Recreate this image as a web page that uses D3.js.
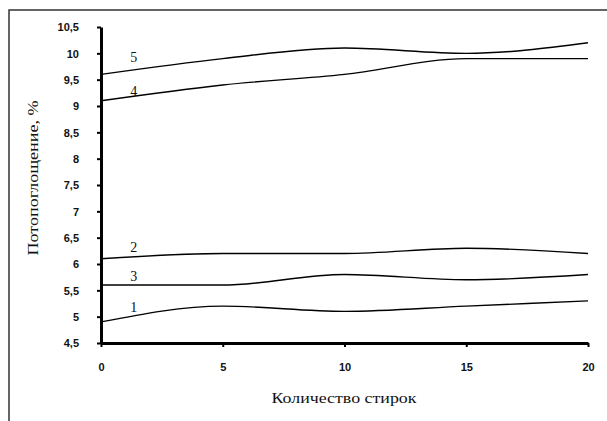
<!DOCTYPE html>
<html><head><meta charset="utf-8">
<script src="https://cdn.jsdelivr.net/npm/d3@7"></script>
<style>body{margin:0;background:#fff}svg{display:block}</style>
</head><body>
<script>
const washes = [0, 5, 10, 15, 20];
const series1 = [4.9, 5.2, 5.1, 5.2, 5.3];
const series2 = [6.1, 6.2, 6.2, 6.3, 6.2];
const series3 = [5.6, 5.6, 5.8, 5.7, 5.8];
const series4 = [9.1, 9.4, 9.6, 9.9, 9.9];
const series5 = [9.6, 9.9, 10.1, 10.0, 10.2];
const seriesNames = ["1", "2", "3", "4", "5"];
const yTicks = [4.5, 5, 5.5, 6, 6.5, 7, 7.5, 8, 8.5, 9, 9.5, 10, 10.5];
const xTicks = [0, 5, 10, 15, 20];
const xTitle = "Количество стирок";
const yTitle = "Потопоглощение, %";

const W = 607, H = 421;
const svg = d3.select("body").append("svg").attr("width", W).attr("height", H);

// outer frame
svg.append("rect").attr("x", 9).attr("y", 10).attr("width", 620).attr("height", 440)
  .attr("fill", "none").attr("stroke", "#333").attr("stroke-width", 1.5);

const x = d3.scaleLinear().domain([0, 20]).range([101, 588]);
const y = d3.scaleLinear().domain([4.5, 10.5]).range([343, 27]);

const fmt = d => String(d).replace(".", ",");

const yAxis = svg.append("g").attr("transform", `translate(${x(0)},0)`)
  .call(d3.axisLeft(y).tickValues(yTicks).tickFormat(fmt).tickSize(4).tickSizeOuter(0).tickPadding(18));
const xAxis = svg.append("g").attr("transform", `translate(0,${y(4.5)})`)
  .call(d3.axisBottom(x).tickValues(xTicks).tickFormat(fmt).tickSize(4).tickSizeOuter(0).tickPadding(16));
[yAxis, xAxis].forEach(g => {
  g.select(".domain").attr("stroke", "#000").attr("stroke-width", 3);
  g.selectAll(".tick line").attr("stroke", "#000").attr("stroke-width", 2);
  g.selectAll(".tick text").attr("font-family", "'Liberation Sans', Arial, sans-serif")
    .attr("font-size", 11).attr("font-weight", "bold").attr("fill", "#111");
});
yAxis.selectAll(".tick text").attr("dy", "0.35em");

const all = [series1, series2, series3, series4, series5];
const line = d3.line().x((d, i) => x(washes[i])).y(d => y(d)).curve(d3.curveMonotoneX);
svg.append("g").selectAll("path").data(all).join("path")
  .attr("d", line).attr("fill", "none").attr("stroke", "#000").attr("stroke-width", 1.4);

// series labels (baseline offsets from the line)
const labelOffsets = [-6, -5, -4, 0, -8];
svg.append("g").selectAll("text").data(all).join("text")
  .attr("x", x(1.35))
  .attr("y", (d, i) => y(d[0] + (d[1] - d[0]) * 0.27) + labelOffsets[i])
  .attr("text-anchor", "middle")
  .attr("font-family", "'Liberation Serif', 'Times New Roman', serif")
  .attr("font-size", 14).attr("fill", "#111")
  .text((d, i) => seriesNames[i]);

svg.append("text").attr("x", 344).attr("y", 403).attr("text-anchor", "middle")
  .attr("font-family", "'Liberation Serif', 'Times New Roman', serif").attr("font-size", 15)
  .attr("textLength", 145).attr("lengthAdjust", "spacingAndGlyphs").attr("fill", "#111")
  .text(xTitle);

svg.append("text").attr("transform", "translate(38,178) rotate(-90)").attr("text-anchor", "middle")
  .attr("font-family", "'Liberation Serif', 'Times New Roman', serif").attr("font-size", 15)
  .attr("textLength", 155).attr("lengthAdjust", "spacingAndGlyphs").attr("fill", "#111")
  .text(yTitle);
</script>
</body></html>
